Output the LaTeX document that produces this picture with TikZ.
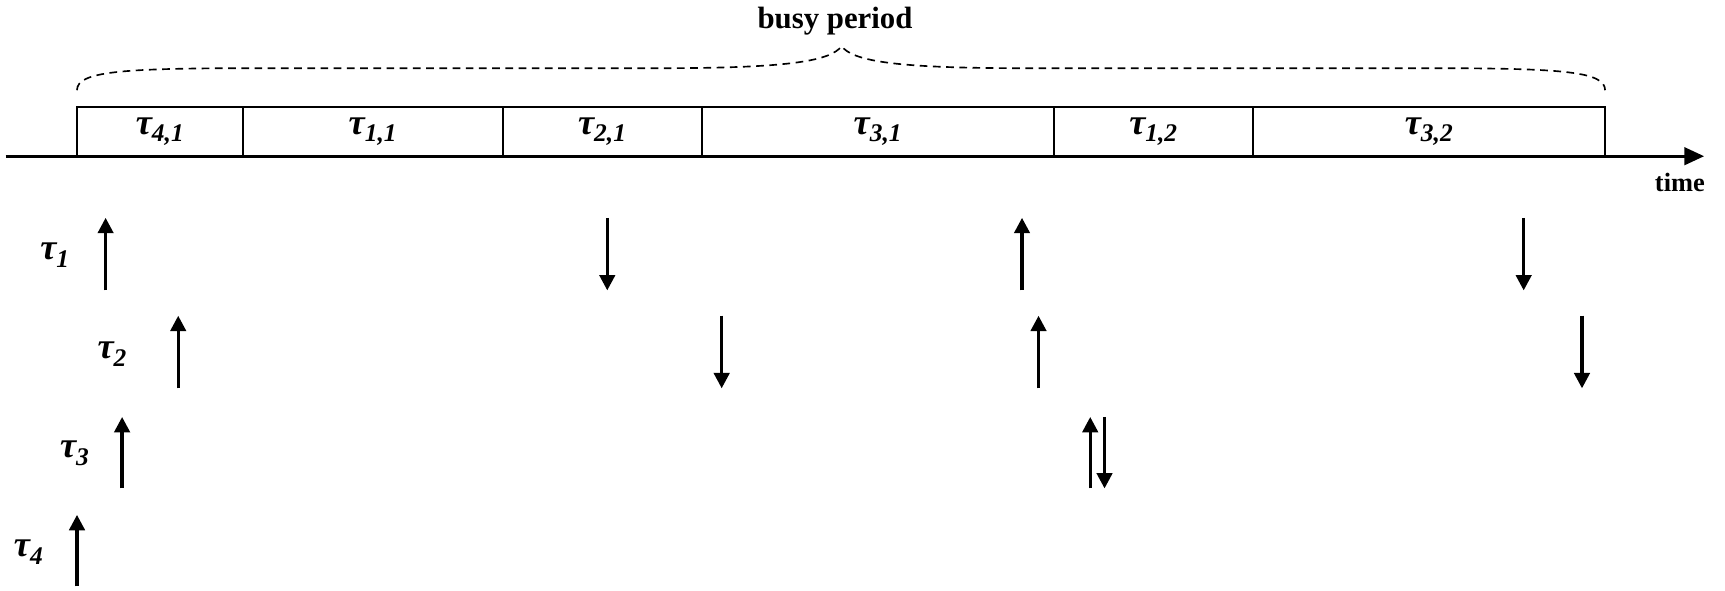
\documentclass[tikz,border=0pt]{standalone}
\usepackage{fontspec}
\setmainfont{Liberation Serif}
\usetikzlibrary{arrows.meta}
\begin{document}
\begin{tikzpicture}[x=1pt,y=-1pt,
  seg/.style={draw, line width=1.8pt, minimum height=45pt, inner sep=0pt, outer sep=0pt, anchor=south west,
    font=\fontsize{33}{38}\selectfont\bfseries\itshape},
  ev/.style={line width=3pt, -{Triangle[width=14pt,length=14pt]}},
  lab/.style={font=\fontsize{33}{38}\selectfont\bfseries\itshape},
  txt/.style={font=\fontsize{28}{34}\selectfont\bfseries}]
\useasboundingbox (0,0) rectangle (1568,537);
% segments
\node[seg, minimum width=151pt] (b41) at (70,142)   {τ\textsubscript{4,1}};
\node[seg, minimum width=236pt] (b11) at (221,142)  {τ\textsubscript{1,1}};
\node[seg, minimum width=181pt] (b21) at (457,142)  {τ\textsubscript{2,1}};
\node[seg, minimum width=320pt] (b31) at (638,142)  {τ\textsubscript{3,1}};
\node[seg, minimum width=181pt] (b12) at (958,142)  {τ\textsubscript{1,2}};
\node[seg, minimum width=320pt] (b32) at (1139,142) {τ\textsubscript{3,2}};
% axis
\coordinate (a0) at (5,142);
\coordinate (a1) at (1549,142);
\draw[line width=2.4pt,-{Triangle[width=16pt,length=18pt]}] (a0) -- (a1);
\node[txt, font=\fontsize{24}{28}\selectfont\bfseries] (time) at (1527,166) {time};
% brace
\coordinate (bl) at (70,82);
\coordinate (br) at (1459,82);
\coordinate (bt) at (765,42);
\draw[line width=1.5pt, dash pattern=on 7pt off 5pt]
  (bl) .. controls (70,65) and (110,62) .. (230,62) -- (600,62)
  .. controls (720,62) and (755,55) .. (bt)
  .. controls (775,55) and (810,62) .. (930,62) -- (1300,62)
  .. controls (1420,62) and (1459,65) .. (br);
\node[txt] (busy) at (759,19) {busy period};
% task labels
\node[lab] (t1) at (50,232) {τ\textsubscript{1}};
\node[lab] (t2) at (102,322) {τ\textsubscript{2}};
\node[lab] (t3) at (68,412) {τ\textsubscript{3}};
\node[lab] (t4) at (26,502) {τ\textsubscript{4}};
% events: up arrows (release), down arrows (deadline)
\foreach \n/\x/\yt/\yb in {u1/96/198/264, u2/929/198/264, u3/162/287/353, u4/944/287/353,
                           u5/111/379/444, u6/991/379/444, u7/70/468/533}{
  \coordinate (\n s) at (\x,\yb);
  \coordinate (\n e) at (\x,\yt);
  \draw[ev] (\n s) -- (\n e);
}
\foreach \n/\x/\yt/\yb in {d1/552/198/264, d2/1385/198/264, d3/656/287/353, d4/1438/287/353,
                           d5/1004/379/444}{
  \coordinate (\n s) at (\x,\yt);
  \coordinate (\n e) at (\x,\yb);
  \draw[ev] (\n s) -- (\n e);
}
\end{tikzpicture}
\end{document}
